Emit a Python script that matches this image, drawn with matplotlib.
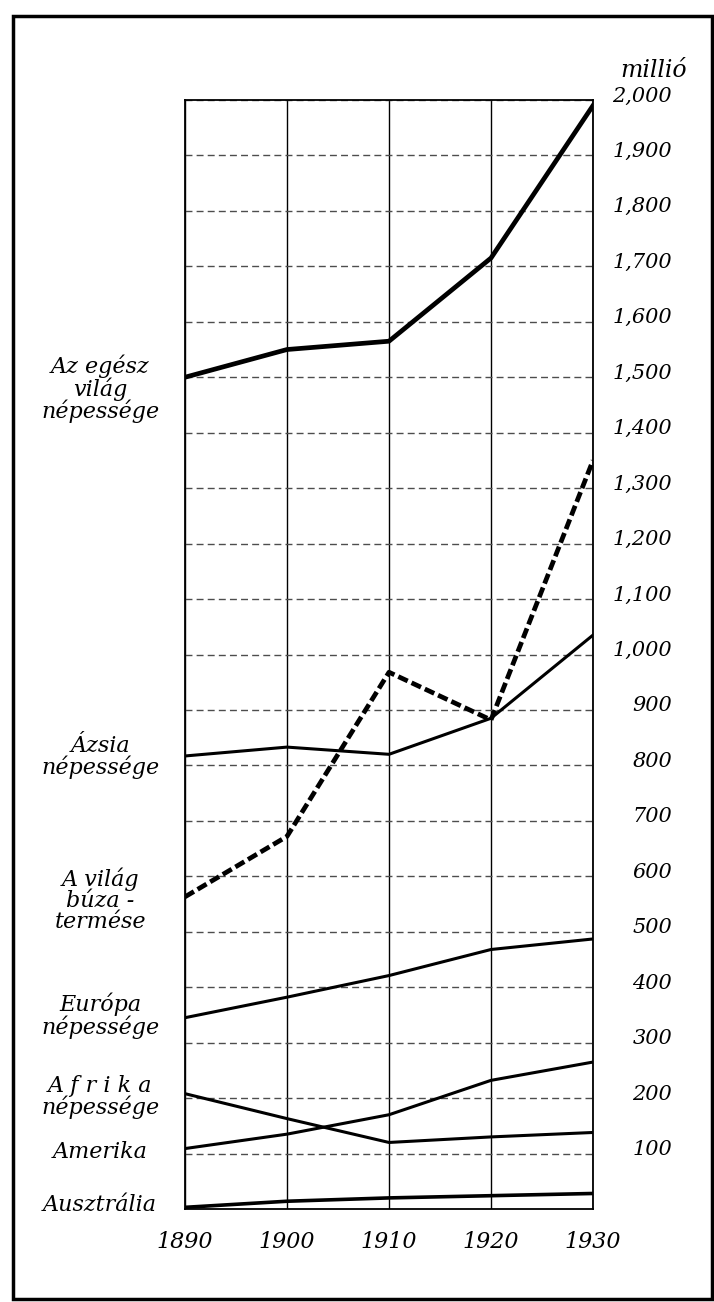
import matplotlib.pyplot as plt
from matplotlib.patches import Rectangle
from matplotlib.transforms import ScaledTranslation

# Népesség (millió) és búzatermés, 1890-1930
years = [1890, 1900, 1910, 1920, 1930]
world = [1500, 1550, 1565, 1715, 1990]
asia = [817, 833, 820, 885, 1035]
wheat = [563, 672, 968, 882, 1350]
europe = [345, 382, 421, 468, 487]
africa = [208, 163, 120, 130, 138]
america = [109, 135, 170, 232, 265]
australia = [3, 14, 20, 24, 28]

y_ticks = list(range(100, 2001, 100))
y_labels = ["100", "200", "300", "400", "500", "600", "700", "800", "900",
            "1,000", "1,100", "1,200", "1,300", "1,400", "1,500", "1,600",
            "1,700", "1,800", "1,900", "2,000"]

# bal oldali feliratok: (szöveg, érték-szint)
labels = [("Az egész\nvilág\nnépessége", 1479),
          ("Ázsia\nnépessége", 815),
          ("A világ\nbúza -\ntermése", 557),
          ("Európa\nnépessége", 348),
          ("A f r i k a\nnépessége", 202),
          ("Amerika", 103),
          ("Ausztrália", 7)]

plt.rcParams['font.family'] = ['DejaVu Serif']
plt.rcParams['font.style'] = 'italic'

fig = plt.figure(figsize=(7.14, 13.02), dpi=100)
ax = fig.add_axes([185 / 714, 1 - 1209 / 1302, 408 / 714, 1109 / 1302])

ax.plot(years, world, color='black', lw=3.4, solid_joinstyle='round')
ax.plot(years, asia, color='black', lw=2.2)
ax.plot(years, wheat, color='black', lw=3.4, linestyle=(0, (2.2, 0.9)))
ax.plot(years, europe, color='black', lw=2.2)
ax.plot(years, africa, color='black', lw=2.2)
ax.plot(years, america, color='black', lw=2.2)
ax.plot(years, australia, color='black', lw=2.6)

ax.set_xlim(1890, 1930)
ax.set_ylim(0, 2000)

ax.set_xticks(years)
ax.set_xticklabels([str(y) for y in years], fontsize=16)
ax.set_yticks(y_ticks)
ax.set_yticklabels([])
ax.tick_params(axis='both', length=0)
ax.tick_params(axis='x', pad=16)

ax.grid(axis='x', color='black', lw=1.0)
ax.grid(axis='y', color='0.3', lw=1.0, linestyle=(0, (5, 3)))
for s in ax.spines.values():
    s.set_linewidth(1.3)

up = ScaledTranslation(0, 4 / 100, fig.dpi_scale_trans)
for val, lab in zip(y_ticks, y_labels):
    ax.text(1.194, val, lab, transform=ax.get_yaxis_transform() + up,
            fontsize=15, ha='right', va='center')

ax.text(1.149, 1.027, "millió", transform=ax.transAxes, fontsize=17,
        ha='center', va='center')

for txt, lvl in labels:
    ax.text(-0.208, lvl, txt, transform=ax.get_yaxis_transform(), fontsize=16,
            ha='center', va='center', linespacing=0.95)

fig.add_artist(Rectangle((13 / 714, 1 - 1299 / 1302), 699 / 714, 1283 / 1302,
                         transform=fig.transFigure, fill=False, lw=2.5,
                         edgecolor='black'))

fig.savefig("out.png", dpi=100)
